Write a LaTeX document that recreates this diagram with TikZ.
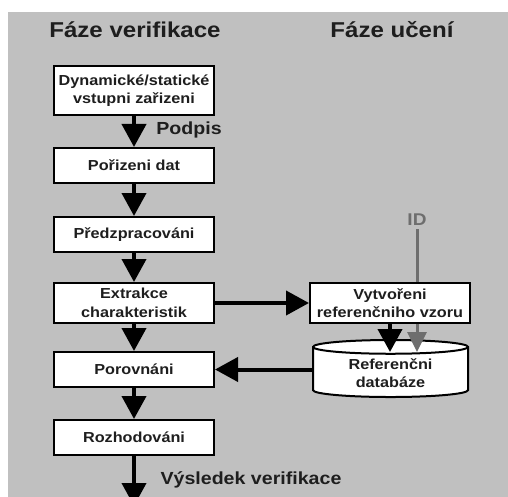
\documentclass[tikz,border=0pt]{standalone}
\usepackage{fontspec}
\setmainfont[FakeStretch=1.12]{Liberation Sans}
\usetikzlibrary{arrows.meta,shapes.geometric}
\definecolor{pozadi}{RGB}{192,192,192}
\definecolor{idseda}{RGB}{110,110,110}
\definecolor{textcerna}{RGB}{30,30,30}
\begin{document}
\begin{tikzpicture}[
    x=1pt,
    y=-1pt,
    krok/.style={
        rectangle,
        draw=black,
        fill=white,
        line width=2pt,
        minimum width=160pt,
        minimum height=35pt,
        inner sep=1pt,
        align=center,
        text=textcerna,
        font={\fontsize{14.5}{18.5}\selectfont\bfseries}
    },
    databaze/.style={
        cylinder,
        shape border rotate=90,
        aspect=0.16,
        draw=black,
        fill=white,
        line width=2pt,
        minimum width=155pt,
        minimum height=57pt,
        inner sep=1pt,
        align=center,
        text=textcerna,
        font={\fontsize{14.5}{18.5}\selectfont\bfseries}
    },
    nadpis/.style={
        text=textcerna,
        font={\fontsize{21.5}{24}\selectfont\bfseries}
    },
    popis/.style={
        text=textcerna,
        font={\fontsize{17.5}{20}\selectfont\bfseries}
    },
    sipka/.style={
        -{Triangle[length=23pt,width=24pt]},
        line width=4pt
    }
]

% Pozadi
\useasboundingbox (0,0) rectangle (508,497);
\fill[pozadi] (8,12) rectangle (508,497);

% Nadpisy
\node[nadpis] (fazever) at (135,30) {Fáze verifikace};
\node[nadpis] (fazeuc) at (392,30) {Fáze učení};

% Leva strana - verifikace
\node[krok, minimum height=49pt] (vstup) at (134,90.5) {
    Dynamické/statické\\
    vstupni zařizeni
};
\node[krok, below of=vstup, node distance=75pt] (porizeni) {Pořizeni dat};
\node[krok, below of=porizeni, node distance=69pt] (predzprac) {Předzpracováni};
\node[krok, minimum height=40pt, below of=predzprac, node distance=68.5pt] (extrakce) {
    Extrakce\\
    charakteristik
};
\node[krok, below of=extrakce, node distance=66.5pt] (porovnani) {Porovnáni};
\node[krok, below of=porovnani, node distance=68pt] (rozhod) {Rozhodováni};
\coordinate (vysl) at (134,506);

\draw[sipka] (vstup) -- (porizeni);
\draw[sipka] (porizeni) -- (predzprac);
\draw[sipka] (predzprac) -- (extrakce);
\draw[sipka] (extrakce) -- (porovnani);
\draw[sipka] (porovnani) -- (rozhod);
\draw[sipka] (rozhod) -- (vysl);

% Prava strana - uceni
\node[databaze] (refdb) at (390.5,373) {
    Referenčni\\
    databáze
};
\node[text=idseda, font={\fontsize{17}{19}\selectfont\bfseries}] (id) at (417,220) {ID};
\path (refdb.north) ++(0,13) coordinate (dbvstup);
\draw[-{Triangle[length=20pt,width=19pt]}, line width=3pt, idseda] (id) -- (id |- dbvstup);

\node[krok, minimum height=40pt] (vzor) at (390,303) {
    Vytvořeni\\
    referenčniho vzoru
};

\draw[sipka] (extrakce) -- (vzor);
\draw[sipka] (vzor) -- (vzor |- dbvstup);
\draw[sipka] (refdb.west |- porovnani.east) -- (porovnani.east);

% Popisky
\node[popis] (podpis) at (189,130) {Podpis};
\node[popis] (vysledek) at (251,480) {Výsledek verifikace};

\end{tikzpicture}
\end{document}
